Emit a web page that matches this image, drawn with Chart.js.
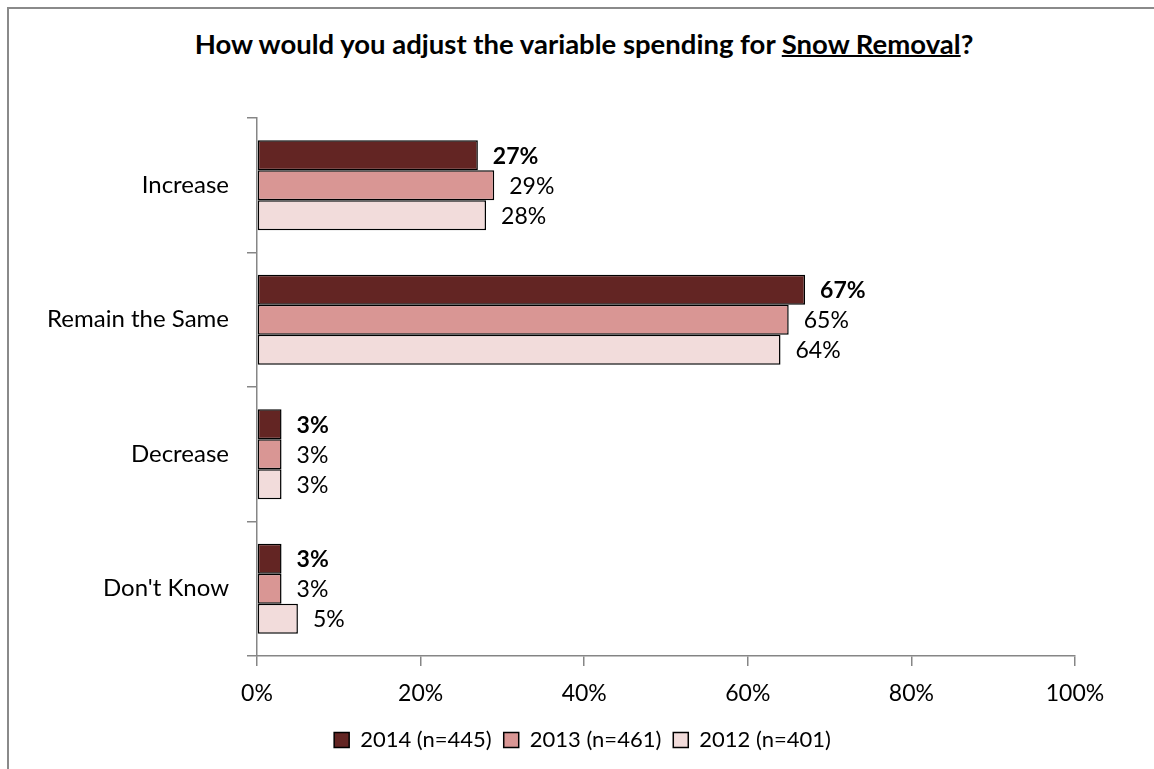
<!DOCTYPE html>
<html>
<head>
<meta charset="utf-8">
<script src="https://cdn.jsdelivr.net/npm/chart.js@4"></script>
<style>
    body { margin: 0; background: #fff; }
    #wrap { position: relative; width: 1154px; height: 769px; overflow: hidden; }
    #frame {
        position: absolute; left: 7px; top: 7px; right: -10px; bottom: -10px;
        border-left: 2px solid #8a8a8a; border-top: 2px solid #8a8a8a;
    }
    #title {
        position: absolute; left: 0; width: 1168px; top: 27px;
        text-align: center; font: bold 27.5px Lato, 'Open Sans', sans-serif; color: #000;
    }
    #title u { text-decoration-thickness: 2px; }
    canvas { position: absolute; left: 0; top: 0; }
</style>
</head>
<body>
<div id="wrap">
    <div id="frame"></div>
    <div id="title">How would you adjust the variable spending for <u>Snow Removal</u>?</div>
    <canvas id="snowChart" width="1154" height="769"></canvas>
</div>
<script>
const categories = ['Increase', 'Remain the Same', 'Decrease', "Don't Know"];
const series2014 = [27, 67, 3, 3];
const series2013 = [29, 65, 3, 3];
const series2012 = [28, 64, 3, 5];
const seriesNames = ['2014 (n=445)', '2013 (n=461)', '2012 (n=401)'];
const xTicks = [0, 20, 40, 60, 80, 100];

const colors = {
    dark: '#632523',   // 2014
    mid: '#d99694',    // 2013
    light: '#f2dcdb',  // 2012
    axis: '#868686'
};
const fontFamily = "Lato, 'Open Sans', sans-serif";

// value labels next to each bar, 2014 in bold
const barLabels = {
    id: 'barLabels',
    afterDatasetsDraw(chart) {
        const ctx = chart.ctx;
        ctx.save();
        ctx.fillStyle = '#000';
        ctx.textAlign = 'left';
        ctx.textBaseline = 'middle';
        chart.data.datasets.forEach((ds, i) => {
            ctx.font = (i === 0 ? 'bold ' : '') + '23px ' + fontFamily;
            chart.getDatasetMeta(i).data.forEach((bar, j) => {
                ctx.fillText(ds.data[j] + '%', bar.x + 15, bar.y + 1);
            });
        });
        ctx.restore();
    }
};

// legend sits a bit right of the canvas centre
const legendShift = {
    id: 'legendShift',
    afterLayout(chart) {
        chart.legend.left += 45;
        chart.legend.right += 45;
    }
};

new Chart(document.getElementById('snowChart'), {
    type: 'bar',
    data: {
        labels: categories,
        datasets: [
            { label: seriesNames[0], data: series2014, backgroundColor: colors.dark },
            { label: seriesNames[1], data: series2013, backgroundColor: colors.mid },
            { label: seriesNames[2], data: series2012, backgroundColor: colors.light }
        ].map(d => Object.assign(d, {
            borderColor: '#000',
            borderWidth: 1.5,
            borderSkipped: false,
            barPercentage: 1,
            categoryPercentage: 0.67
        }))
    },
    options: {
        indexAxis: 'y',
        responsive: false,
        animation: false,
        layout: { padding: { top: 118, right: 79, left: 0, bottom: 8 } },
        scales: {
            x: {
                min: 0,
                max: 100,
                afterBuildTicks: s => { s.ticks = xTicks.map(v => ({ value: v })); },
                border: { color: colors.axis, width: 1.5 },
                grid: { drawOnChartArea: false, tickLength: 10, color: colors.axis, lineWidth: 1.5 },
                ticks: {
                    callback: v => v + '%',
                    color: '#000',
                    padding: 14,
                    font: { family: fontFamily, size: 23 }
                },
                afterFit: s => { s.height = 61; }
            },
            y: {
                border: { color: colors.axis, width: 1.5 },
                grid: { offset: true, drawOnChartArea: false, tickLength: 10, color: colors.axis, lineWidth: 1.5 },
                ticks: {
                    color: '#000',
                    padding: 18,
                    font: { family: fontFamily, size: 24 }
                },
                afterFit: s => { s.width = 257; }
            }
        },
        plugins: {
            legend: {
                position: 'bottom',
                labels: {
                    color: '#000',
                    boxWidth: 15,
                    boxHeight: 15,
                    padding: 12,
                    font: { family: fontFamily, size: 22 }
                }
            },
            tooltip: { enabled: false }
        }
    },
    plugins: [barLabels, legendShift]
});
</script>
</body>
</html>
